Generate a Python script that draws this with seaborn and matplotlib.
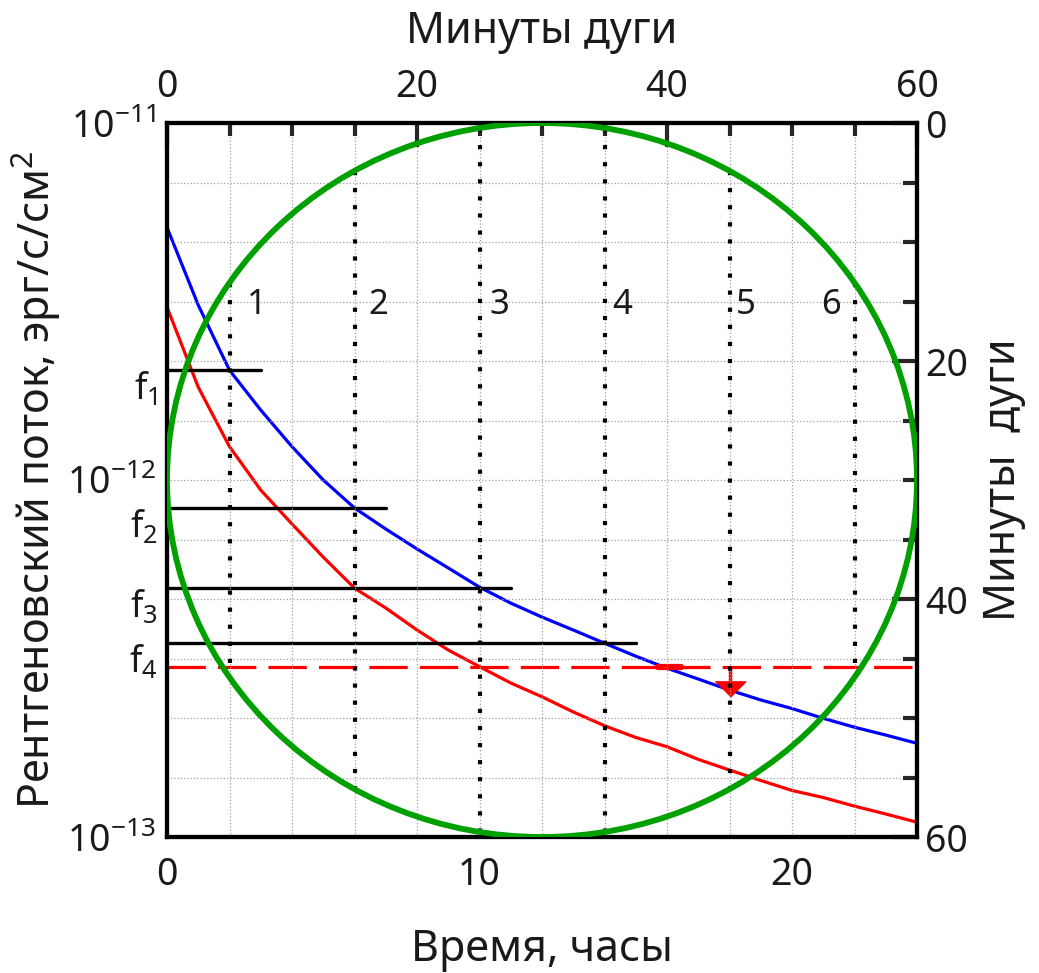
import numpy as np
import pandas as pd
import matplotlib
matplotlib.use("Agg")
import matplotlib.pyplot as plt
import seaborn as sns
from matplotlib.patches import Circle
from matplotlib.ticker import MultipleLocator, LogLocator, NullFormatter

# ---- data (flux in units of 1e-12 erg/s/cm^2) ----
hours = list(range(25))
flux_blue = [5.1, 3.09, 2.03, 1.57, 1.24, 1.0, 0.835, 0.729, 0.641, 0.567,
             0.501, 0.452, 0.413, 0.380, 0.349, 0.321, 0.297, 0.277, 0.258,
             0.242, 0.229, 0.215, 0.203, 0.193, 0.183]
flux_red = [3.05, 1.82, 1.24, 0.937, 0.753, 0.608, 0.498, 0.438, 0.38, 0.334,
            0.30, 0.27, 0.247, 0.224, 0.205, 0.19, 0.179, 0.165, 0.154,
            0.144, 0.135, 0.129, 0.122, 0.116, 0.110]

f_names = ["f$_1$", "f$_2$", "f$_3$", "f$_4$"]
f_levels = [2.03, 0.835, 0.498, 0.35]
f_ends = [3, 7, 11, 15]

limit_level = 0.30
limit_bar = [15.7, 16.45]
arrow_hour = 18
arrow_tip = 0.26

chord_hours = [2, 6, 10, 14, 18, 22]
chord_names = ["1", "2", "3", "4", "5", "6"]
chord_label_arcmin = [7.2, 16.9, 26.6, 36.4, 46.3, 53.1]

circle_center = (30, 30)   # arc minutes
circle_radius = 30

scale = 1e-12
df = pd.DataFrame({"t": hours,
                   "blue": np.array(flux_blue) * scale,
                   "red": np.array(flux_red) * scale})

# ---- style ----
sns.set_theme(style="white")
plt.rcParams["font.family"] = ["Noto Sans", "DejaVu Sans"]
plt.rcParams["mathtext.fontset"] = "custom"
plt.rcParams["mathtext.rm"] = "Noto Sans"
plt.rcParams["mathtext.default"] = "regular"
plt.rcParams["axes.linewidth"] = 3
TXT = "#1a1a1a"

fig = plt.figure(figsize=(10.39, 9.73), dpi=100)
rect = [167 / 1039, 1 - 837 / 973, 750 / 1039, 714 / 973]
ax = fig.add_axes(rect)
ax2 = fig.add_axes(rect, facecolor="none")

# ---- flux axes (bottom / left) ----
sns.lineplot(data=df, x="t", y="blue", color="blue", lw=2.3, ax=ax)
sns.lineplot(data=df, x="t", y="red", color="red", lw=2.3, ax=ax)

for name, lev, end in zip(f_names, f_levels, f_ends):
    ax.plot([0, end], [lev * scale, lev * scale], color="black", lw=2.4)
    ax.text(-0.3, lev * scale, name, ha="right", va="top", fontsize=26,
            color=TXT, clip_on=False)

ax.plot([0, 24], [limit_level * scale] * 2, color="red", lw=2.3,
        ls=(0, (12, 3.8)))
ax.plot(limit_bar, [limit_level * scale] * 2, color="red", lw=4.5)
ax.plot([arrow_hour, arrow_hour], [limit_level * scale, arrow_tip * scale * 1.03],
        color="red", lw=2.5)
ax.plot(arrow_hour, arrow_tip * scale, color="red", ms=22, ls="none",
        marker=[(-1, 0.5), (1, 0.5), (0, -0.5)])

ax.set_yscale("log")
ax.set_xlim(0, 24)
ax.set_ylim(1e-13, 1e-11)
ax.xaxis.set_major_locator(MultipleLocator(10))
ax.xaxis.set_minor_locator(MultipleLocator(2))
ax.yaxis.set_major_locator(LogLocator(base=10))
ax.yaxis.set_minor_locator(LogLocator(base=10, subs=[2, 4, 6, 8]))
ax.yaxis.set_minor_formatter(NullFormatter())
ax.tick_params(axis="x", which="major", direction="in", length=17, width=3,
               labelsize=27, pad=14, colors="black", labelcolor=TXT)
ax.tick_params(axis="x", which="minor", direction="in", length=9, width=3)
ax.tick_params(axis="y", which="major", direction="in", length=18, width=3,
               labelsize=27, pad=8, labelcolor=TXT)
ax.tick_params(axis="y", which="minor", direction="in", length=12, width=3)
ax.set_xlabel("Время, часы", fontsize=31, color=TXT, labelpad=24)
ax.set_ylabel("Рентгеновский поток, эрг/с/см$^2$", fontsize=31, color=TXT,
              labelpad=2)
ax.grid(False)

# ---- arc-minute axes (top / right) ----
ax2.add_patch(Circle(circle_center, circle_radius, fill=False,
                     edgecolor="#00a000", lw=4.2, zorder=5))
for h, name, lx in zip(chord_hours, chord_names, chord_label_arcmin):
    xm = h * 60 / 24
    dy = np.sqrt(circle_radius ** 2 - (xm - circle_center[0]) ** 2)
    ax2.plot([xm, xm], [circle_center[1] - dy, circle_center[1] + dy],
             color="black", lw=3.0, ls=(0, (1, 3.1)), dash_capstyle="butt",
             zorder=4)
    ax2.text(lx, 15.3, name, ha="center", va="center", fontsize=25, color=TXT)

ax2.set_xlim(0, 60)
ax2.set_ylim(60, 0)
ax2.xaxis.tick_top()
ax2.yaxis.tick_right()
ax2.xaxis.set_label_position("top")
ax2.yaxis.set_label_position("right")
ax2.xaxis.set_major_locator(MultipleLocator(20))
ax2.xaxis.set_minor_locator(MultipleLocator(5))
ax2.yaxis.set_major_locator(MultipleLocator(20))
ax2.yaxis.set_minor_locator(MultipleLocator(5))
ax2.tick_params(axis="x", which="major", direction="in", length=17, width=3,
                labelsize=27, pad=12, labelcolor=TXT)
ax2.tick_params(axis="x", which="minor", direction="in", length=9, width=3)
ax2.tick_params(axis="y", which="major", direction="in", length=18, width=3,
                labelsize=27, pad=6, labelcolor=TXT)
ax2.tick_params(axis="y", which="minor", direction="in", length=10, width=3)
ax2.grid(which="both", color="#a0a0a0", ls=":", lw=0.9)
ax2.set_axisbelow(True)
ax2.set_xlabel("Минуты дуги", fontsize=31, color=TXT, labelpad=18)
ax2.set_ylabel("Минуты  дуги", fontsize=31, color=TXT, labelpad=10)
for sp in ax2.spines.values():
    sp.set_linewidth(3)
    sp.set_color("black")

fig.savefig("out.png", dpi=100)
